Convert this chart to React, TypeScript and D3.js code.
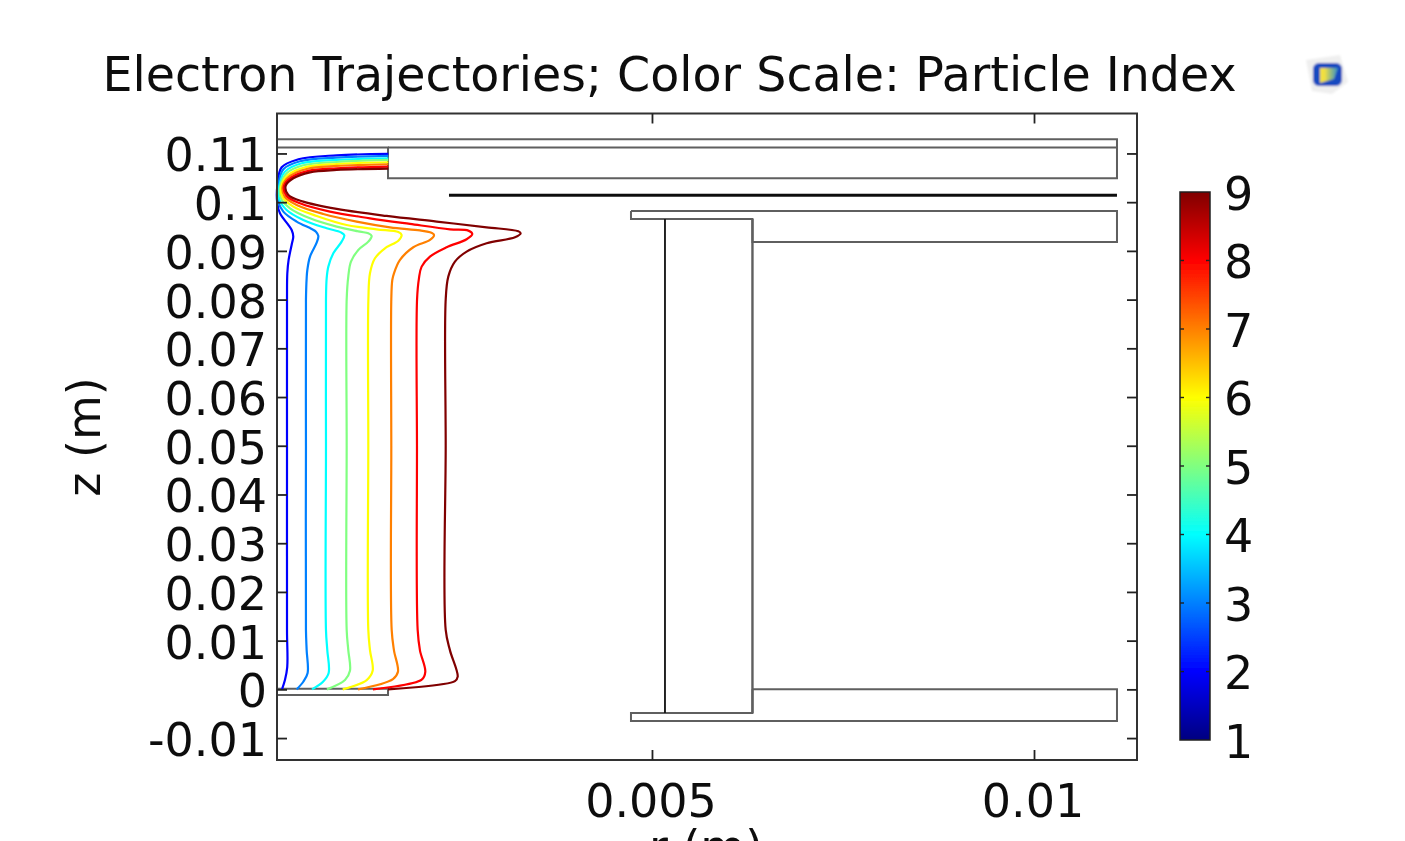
import React, { useEffect, useRef } from 'react'
import * as d3 from 'd3'

// all lengths below are in mm, tick labels are the metre values printed on the plot
const particleIndex = [2, 3, 4, 5, 6, 7, 8, 9]

const trajectory2 = [[0.157, 0], [0.196, 1.91], [0.226, 4.58], [0.223, 12.2], [0.223, 50], [0.223, 80], [0.227, 85.4], [0.244, 88.14], [0.288, 91.56], [0.305, 92.93], [0.284, 94.29], [0.24, 95.32], [0.131, 97.72], [0.096, 99.77], [0.096, 103.33], [0.153, 107.16], [0.371, 108.8], [0.873, 109.62], [1.549, 109.9]]
const trajectory3 = [[0.349, 0], [0.436, 1.56], [0.493, 3.35], [0.48, 8.07], [0.471, 12.2], [0.471, 50], [0.471, 80], [0.48, 84.37], [0.489, 86.08], [0.524, 88.82], [0.611, 91.69], [0.633, 93.06], [0.602, 93.95], [0.545, 94.5], [0.349, 96.01], [0.175, 98.06], [0.105, 100.32], [0.109, 103.33], [0.175, 106.75], [0.393, 108.39], [0.873, 109.14], [1.549, 109.49]]
const trajectory4 = [[0.55, 0], [0.694, 1.56], [0.768, 3.35], [0.75, 8.07], [0.733, 12.2], [0.733, 50], [0.733, 80], [0.742, 84.37], [0.764, 86.77], [0.829, 89.5], [0.938, 91.9], [0.973, 93.2], [0.929, 93.8], [0.742, 94.64], [0.436, 96.35], [0.218, 98.4], [0.122, 100.59], [0.122, 103.33], [0.196, 106.27], [0.414, 107.98], [0.873, 108.67], [1.549, 109.01]]
const trajectory5 = [[0.746, 0], [0.982, 1.91], [1.047, 3.8], [1.025, 8.07], [1.004, 12.2], [1.004, 50], [1.004, 80], [1.025, 84.71], [1.06, 87.79], [1.156, 90.19], [1.287, 91.9], [1.331, 93.06], [1.287, 93.6], [1.178, 93.95], [0.873, 94.98], [0.524, 96.69], [0.262, 98.74], [0.144, 100.8], [0.135, 103.33], [0.218, 105.93], [0.436, 107.57], [0.873, 108.25], [1.549, 108.67]]
const trajectory6 = [[0.952, 0], [1.266, 1.91], [1.344, 3.8], [1.309, 8.07], [1.287, 12.2], [1.287, 50], [1.288, 80], [1.309, 85.4], [1.374, 88.48], [1.505, 90.53], [1.68, 92.1], [1.723, 93.27], [1.68, 93.88], [1.396, 94.43], [1.003, 95.32], [0.611, 97.17], [0.305, 99.08], [0.166, 101.0], [0.148, 103.33], [0.24, 105.59], [0.458, 107.16], [0.873, 107.84], [1.549, 108.19]]
const trajectory7 = [[1.152, 0], [1.61, 2.11], [1.675, 3.6], [1.623, 8], [1.593, 12.2], [1.588, 50], [1.588, 80], [1.601, 84.03], [1.623, 85.4], [1.702, 88.14], [1.876, 90.74], [2.094, 92.24], [2.147, 93.27], [2.094, 93.82], [1.963, 94.2], [1.571, 94.84], [1.134, 96.01], [0.698, 97.58], [0.349, 99.43], [0.192, 101.14], [0.166, 103.33], [0.262, 105.38], [0.48, 106.82], [0.873, 107.43], [1.549, 107.78]]
const trajectory8 = [[1.348, 0], [1.986, 2.0], [2.033, 3.6], [1.963, 8], [1.933, 12.2], [1.924, 50], [1.925, 80], [1.95, 84.37], [1.985, 86.77], [2.094, 88.82], [2.312, 90.74], [2.574, 92.38], [2.648, 93.47], [2.596, 94.16], [2.356, 94.43], [1.832, 95.53], [1.309, 96.69], [0.785, 98.06], [0.393, 99.77], [0.218, 101.27], [0.183, 103.33], [0.284, 105.11], [0.502, 106.41], [0.873, 106.95], [1.549, 107.3]]
const trajectory9 = [[1.545, 0], [2.421, 1.7], [2.457, 2.6], [2.356, 8], [2.3, 12.2], [2.3, 50], [2.3, 80], [2.334, 84.71], [2.421, 87.79], [2.574, 89.85], [2.836, 91.56], [3.207, 92.79], [3.281, 93.61], [3.25, 94.02], [2.836, 94.84], [2.182, 96.01], [1.527, 97.17], [0.873, 98.61], [0.436, 100.11], [0.24, 101.48], [0.205, 103.33], [0.305, 104.9], [0.524, 106.13], [0.873, 106.61], [1.549, 106.89]]
const trajectories = [trajectory2, trajectory3, trajectory4, trajectory5, trajectory6, trajectory7, trajectory8, trajectory9]

// electrode outlines
const topPlate = [[0.092, 112.9], [11.086, 112.9], [11.086, 104.9], [1.545, 104.9], [1.545, 111.2], [0.092, 111.2]]
const topPlateInner = [[1.545, 111.2], [11.086, 111.2]]
const grid = [[2.343, 101.4], [11.086, 101.4]]
const anodeTop = [[4.725, 98.19], [11.086, 98.19], [11.086, 91.83], [6.315, 91.83], [6.315, 96.55], [4.725, 96.55], [4.725, 98.19]]
const anodeBottom = [[6.315, 0], [11.086, 0], [11.086, -6.51], [4.725, -6.51], [4.725, -4.87], [6.315, -4.87], [6.315, 0]]
const anodeWall = [[6.315, 96.55], [6.315, -4.87]]
const anodeInner = [[5.17, 96.55], [5.17, -4.87]]
const cathode = [[0.092, 0.1], [1.545, 0.1], [1.545, -1.17], [0.092, -1.17]]

const rTicks = [5, 10]
const rTickLabels = ['0.005', '0.01']
const zTicks = [-10, 0, 10, 20, 30, 40, 50, 60, 70, 80, 90, 100, 110]
const zTickLabels = ['-0.01', '0', '0.01', '0.02', '0.03', '0.04', '0.05', '0.06', '0.07', '0.08', '0.09', '0.1', '0.11']
const colorTicks = [1, 2, 3, 4, 5, 6, 7, 8, 9]
const jetStops = ['#000080', '#0000ff', '#0080ff', '#00ffff', '#80ff80', '#ffff00', '#ff8000', '#ff0000', '#800000']

const font = '"DejaVu Sans", sans-serif'
const gray = '#5f5f5f'

export default function App() {
    const leftRef = useRef<SVGGElement>(null)
    const rightRef = useRef<SVGGElement>(null)
    const topRef = useRef<SVGGElement>(null)
    const bottomRef = useRef<SVGGElement>(null)
    const barRef = useRef<SVGGElement>(null)

    const r = d3.scaleLinear().domain([0.092, 11.348]).range([277, 1137])
    const z = d3.scaleLinear().domain([-14.5, 118.2]).range([760, 113.5])
    const barY = d3.scaleLinear().domain([1, 9]).range([740, 192])
    const jet = d3.scaleLinear<string>().domain(colorTicks).range(jetStops)

    const line = d3.line().x(d => r(d[0])).y(d => z(d[1]))
    const smooth = d3.line().x(d => r(d[0])).y(d => z(d[1])).curve(d3.curveCatmullRom.alpha(0.5))

    useEffect(() => {
        const style = (g: any) => {
            g.attr('font-family', font).attr('font-size', 46)
            g.selectAll('text').attr('fill', '#111')
            g.selectAll('line').attr('stroke', '#222').attr('stroke-width', 1.8)
            g.select('.domain').remove()
        }
        d3.select(leftRef.current)
            .call(d3.axisLeft(z).tickValues(zTicks).tickSize(-10).tickPadding(10).tickFormat((d, i) => zTickLabels[i]) as any)
            .call(style)
            .selectAll('text').attr('dy', '0.38em')
        d3.select(rightRef.current)
            .call(d3.axisRight(z).tickValues(zTicks).tickSize(-10).tickFormat(() => '') as any)
            .call(style)
        d3.select(topRef.current)
            .call(d3.axisTop(r).tickValues(rTicks).tickSize(-10).tickFormat(() => '') as any)
            .call(style)
        d3.select(bottomRef.current)
            .call(d3.axisBottom(r).tickValues(rTicks).tickSize(-10).tickPadding(24).tickFormat((d, i) => rTickLabels[i]) as any)
            .call(style)
            .selectAll('text').attr('x', -1.5)
        d3.select(barRef.current)
            .call(d3.axisRight(barY).tickValues(colorTicks).tickSize(0).tickPadding(14).tickFormat(d3.format('d')) as any)
            .call(style)
            .selectAll('text').attr('dy', '0.37em')
    }, [])

    return (
        <svg width={1405} height={841} style={{ position: 'absolute', left: 0, top: 0, background: '#fff' }}>
            <defs>
                <filter id="soft" x="-5%" y="-5%" width="110%" height="110%">
                    <feGaussianBlur stdDeviation="0.7" />
                </filter>
                <filter id="softer" x="-20%" y="-20%" width="140%" height="140%">
                    <feGaussianBlur stdDeviation="1.1" />
                </filter>
                <linearGradient id="jet" x1="0" y1="1" x2="0" y2="0">
                    {colorTicks.map((c, i) => (
                        <stop key={c} offset={i / (colorTicks.length - 1)} stopColor={jet(c)} />
                    ))}
                </linearGradient>
                <linearGradient id="logoFace" x1="0" y1="0" x2="1" y2="0">
                    <stop offset="0.25" stopColor="#f2e040" />
                    <stop offset="1" stopColor="#2f8fc8" />
                </linearGradient>
            </defs>
            <g filter="url(#soft)">
                <text x={669.5} y={91} textAnchor="middle" fontFamily={font} fontSize={47.5} fill="#111">
                    Electron Trajectories; Color Scale: Particle Index
                </text>

                <g fill="none" stroke={gray} strokeWidth={2}>
                    <path d={line(topPlate as any) as string} />
                    <path d={line(topPlateInner as any) as string} />
                    <path d={line(anodeTop as any) as string} />
                    <path d={line(anodeBottom as any) as string} />
                    <path d={line(anodeWall as any) as string} strokeWidth={2.4} />
                    <path d={line(cathode as any) as string} />
                </g>
                <path d={line(anodeInner as any) as string} fill="none" stroke="#111" strokeWidth={1.8} />
                <path d={line(grid as any) as string} fill="none" stroke="#111" strokeWidth={3} />

                <g fill="none" strokeWidth={2.2}>
                    {trajectories.map((t, i) => (
                        <path key={particleIndex[i]} d={smooth(t as any) as string} stroke={jet(particleIndex[i])} />
                    ))}
                </g>

                <rect x={277} y={113.5} width={860} height={646.5} fill="none" stroke="#333" strokeWidth={2} />
                <g ref={leftRef} transform="translate(277,0)" />
                <g ref={rightRef} transform="translate(1137,0)" />
                <g ref={topRef} transform="translate(0,113.5)" />
                <g ref={bottomRef} transform="translate(0,760)" />

                <text transform="translate(100,437) rotate(-90)" textAnchor="middle" fontFamily={font} fontSize={46} fill="#111">
                    z (m)
                </text>
                <text x={706} y={863} textAnchor="middle" fontFamily={font} fontSize={46} fill="#111">
                    r (m)
                </text>

                <rect x={1180} y={192} width={30} height={548} fill="url(#jet)" stroke="#222" strokeWidth={1.5} />
                {colorTicks.slice(1, -1).map(c => (
                    <g key={c} stroke="#222" strokeWidth={1.4}>
                        <line x1={1180} x2={1184} y1={barY(c)} y2={barY(c)} />
                        <line x1={1206} x2={1210} y1={barY(c)} y2={barY(c)} />
                    </g>
                ))}
                <g ref={barRef} transform="translate(1210,0)" />
            </g>

            <g filter="url(#softer)">
                <path d="M1306,60 L1340,55 L1348,82 L1332,94 L1312,91 Z" fill="#efefef" />
                <rect x={1313} y={63} width={29} height={23} rx={6} fill="#1648c0" />
                <path d="M1320,68 L1338,68 L1334,79 L1320,83 Z" fill="url(#logoFace)" />
            </g>
        </svg>
    )
}
